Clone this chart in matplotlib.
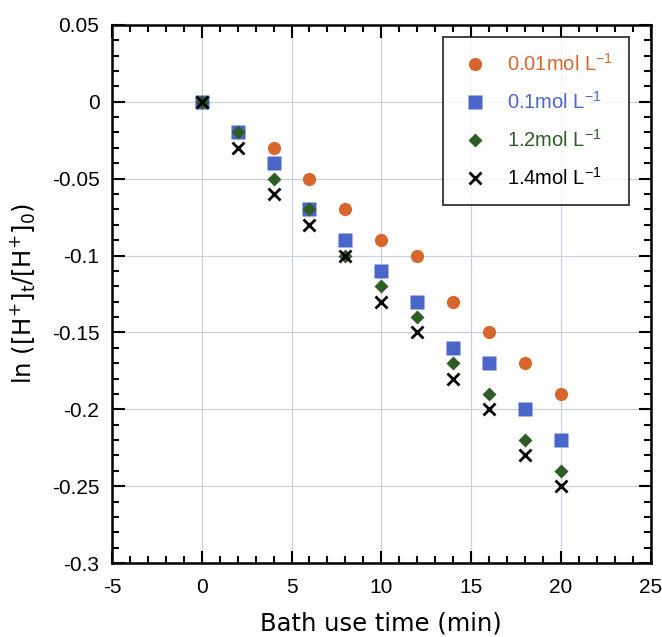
import matplotlib
matplotlib.use("Agg")
import matplotlib.pyplot as plt
from matplotlib.ticker import MultipleLocator

plt.rcParams["font.family"] = ["Liberation Sans", "DejaVu Sans"]
plt.rcParams["mathtext.fontset"] = "custom"
plt.rcParams["mathtext.rm"] = "DejaVu Sans"
plt.rcParams["mathtext.it"] = "DejaVu Sans"
plt.rcParams["axes.unicode_minus"] = False

# data
time_min = [0, 2, 4, 6, 8, 10, 12, 14, 16, 18, 20]
c001 = [0, -0.02, -0.03, -0.05, -0.07, -0.09, -0.10, -0.13, -0.15, -0.17, -0.19]
c01 = [0, -0.02, -0.04, -0.07, -0.09, -0.11, -0.13, -0.16, -0.17, -0.20, -0.22]
c12 = [0, -0.02, -0.05, -0.07, -0.10, -0.12, -0.14, -0.17, -0.19, -0.22, -0.24]
c14 = [0, -0.03, -0.06, -0.08, -0.10, -0.13, -0.15, -0.18, -0.20, -0.23, -0.25]
labels = ["0.01mol L$^{\\mathregular{-1}}$", "0.1mol L$^{\\mathregular{-1}}$",
          "1.2mol L$^{\\mathregular{-1}}$", "1.4mol L$^{\\mathregular{-1}}$"]
colors = ["#d8662c", "#4a66c9", "#2f5d27", "black"]

fig = plt.figure(figsize=(6.62, 6.37), dpi=100)
ax = fig.add_axes([0.169, 0.116, 0.814, 0.845])

ax.grid(True, which="major", color="#c8d0dc", lw=0.9, zorder=0)
ax.set_axisbelow(True)

ax.plot(time_min, c001, "o", ms=9.5, color=colors[0], mec="none", label=labels[0], zorder=3)
ax.plot(time_min, c01, "s", ms=9.5, color=colors[1], mec="none", label=labels[1], zorder=3)
ax.plot(time_min, c12, "D", ms=7.5, color=colors[2], mec="none", label=labels[2], zorder=4)
ax.plot(time_min, c14, "x", ms=9, mew=2, color=colors[3], label=labels[3], zorder=5)

ax.set_xlim(-5, 25)
ax.set_ylim(-0.3, 0.05)
ax.xaxis.set_major_locator(MultipleLocator(5))
ax.xaxis.set_minor_locator(MultipleLocator(1))
ax.yaxis.set_minor_locator(MultipleLocator(0.01))
ax.set_yticks([0.05, 0, -0.05, -0.1, -0.15, -0.2, -0.25, -0.3])
ax.set_yticklabels(["0.05", "0", "-0.05", "-0.1", "-0.15", "-0.2", "-0.25", "-0.3"])
ax.tick_params(which="both", direction="in", top=True, right=True, labelsize=15, width=1.5)
ax.tick_params(which="major", length=9)
ax.tick_params(axis="x", which="major", pad=11)
ax.tick_params(axis="y", which="major", pad=9)
ax.tick_params(which="minor", length=5)
for s in ax.spines.values():
    s.set_linewidth(1.8)

ax.set_xlabel("Bath use time (min)", fontsize=17.5, family="DejaVu Sans", labelpad=10)
ax.set_ylabel(r"$\mathregular{ln\ ([H^{+}]_{t}/[H^{+}]_{0})}$", fontsize=17.5,
              family="DejaVu Sans", labelpad=10)

leg = ax.legend(loc="upper right", bbox_to_anchor=(0.96, 0.978), fontsize=14.5,
                frameon=True, fancybox=False, edgecolor="black", borderpad=0.8,
                labelspacing=0.8, handletextpad=0.8, handlelength=1.6, borderaxespad=0)
leg.get_frame().set_linewidth(1.3)
for t, c in zip(leg.get_texts(), colors):
    t.set_color(c)

fig.savefig("out.png", dpi=100)
